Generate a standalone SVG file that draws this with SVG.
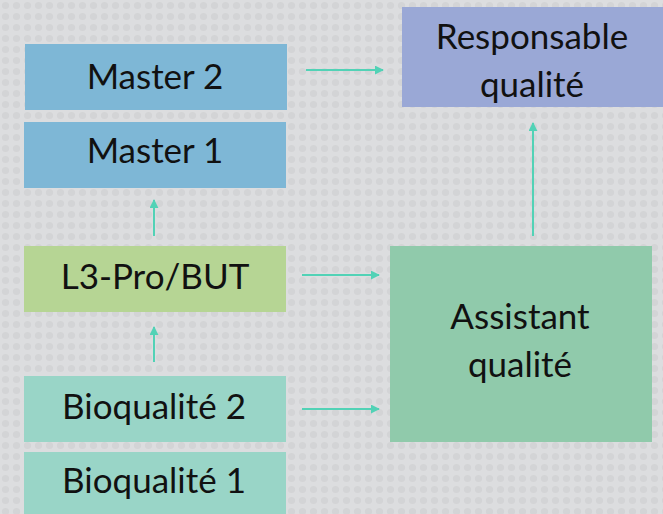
<svg xmlns="http://www.w3.org/2000/svg" width="663" height="514" viewBox="0 0 663 514">
<defs>
<pattern id="dots" width="11" height="11" patternUnits="userSpaceOnUse">
<circle cx="5.5" cy="5.5" r="3.6" fill="#d3d4d6"/>
</pattern>
<marker id="ah" viewBox="0 0 10 10" refX="9" refY="5" markerWidth="4.5" markerHeight="4.5" orient="auto" markerUnits="strokeWidth">
<path d="M0,0 L10,5 L0,10 z" fill="#52d2b6"/>
</marker>
<style>
.t{font-family:Lato,"Open Sans","Liberation Sans",sans-serif;font-size:35px;fill:#111;text-anchor:middle}
.c{stroke:#52d2b6;stroke-width:2;fill:none;marker-end:url(#ah)}
.b{opacity:0.94}
</style>
</defs>
<rect width="663" height="514" fill="#dcdddf"/>
<rect width="663" height="514" fill="url(#dots)"/>
<g id="master2"><rect class="b" x="25" y="44" width="262" height="66" fill="#78b5d6"/><text class="t" x="155" y="89">Master 2</text></g>
<g id="master1"><rect class="b" x="24" y="122" width="262" height="66" fill="#78b5d6"/><text class="t" x="155" y="163">Master 1</text></g>
<g id="l3"><rect class="b" x="24" y="246" width="262" height="66" fill="#b4d48f"/><text class="t" x="155" y="289">L3-Pro/BUT</text></g>
<g id="bio2"><rect class="b" x="24" y="376" width="262" height="66" fill="#95d5c6"/><text class="t" x="154" y="419">Bioqualité 2</text></g>
<g id="bio1"><rect class="b" x="24" y="452" width="262" height="66" fill="#95d5c6"/><text class="t" x="154" y="493">Bioqualité 1</text></g>
<g id="responsable"><rect class="b" x="402" y="7" width="261" height="100" fill="#96a5d6"/><text class="t" x="532" y="49">Responsable</text><text class="t" x="532" y="97">qualité</text></g>
<g id="assistant"><rect class="b" x="390" y="246" width="262" height="196" fill="#8bc9a8"/><text class="t" x="520" y="329">Assistant</text><text class="t" x="520" y="377">qualité</text></g>
<g id="connectors">
<line class="c" x1="306" y1="70" x2="383" y2="70"/>
<line class="c" x1="154" y1="236" x2="154" y2="200"/>
<line class="c" x1="154" y1="362" x2="154" y2="327"/>
<line class="c" x1="533" y1="236" x2="533" y2="123"/>
<line class="c" x1="302" y1="275" x2="379" y2="275"/>
<line class="c" x1="302" y1="409" x2="379" y2="409"/>
</g>
</svg>
